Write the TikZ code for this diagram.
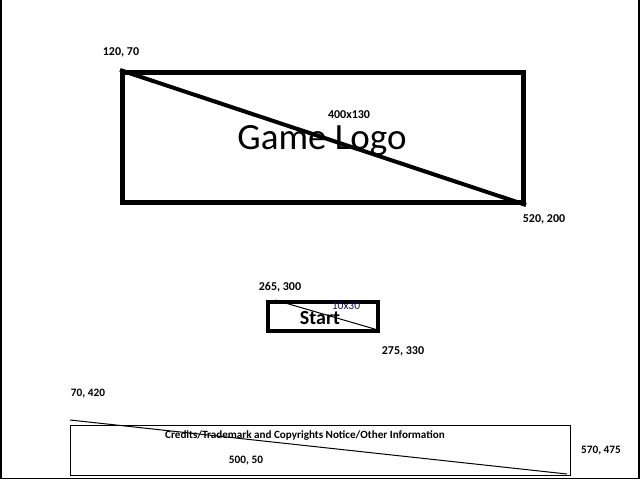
\documentclass[tikz,border=0pt]{standalone}
\usepackage{fontspec}
\setmainfont{Carlito}
\begin{document}
\begin{tikzpicture}[x=1pt,y=-1pt,
  coordlabel/.style={font=\fontsize{12}{12}\selectfont\bfseries, inner sep=0pt},
  smalllabel/.style={font=\fontsize{11.3}{11.3}\selectfont\bfseries, inner sep=0pt},
  box/.style={draw, inner sep=0pt, anchor=north west}]
\useasboundingbox (0,0) rectangle (640,480);
\fill[white] (0,0) rectangle (640,480);
% frame
\draw[line width=1.5pt] (0.75,0) -- (0.75,478.5) -- (639,478.5) -- (639,0);
% logo
\node[box, line width=5pt, minimum width=401pt, minimum height=130pt] (logo) at (120,70) {};
\draw[line width=4pt] (logo.north west) -- (logo.south east);
\node[font=\fontsize{37}{37}\selectfont, inner sep=0pt] (logotext) at (322,141) {Game Logo};
\node[font=\fontsize{12}{12}\selectfont\bfseries, inner sep=0pt] (logosize) at (349,115) {400x130};
\node[coordlabel] (l1) at (121,52) {120, 70};
\node[coordlabel] (l2) at (544,219) {520, 200};
% start
\node[box, line width=4pt, minimum width=110pt, minimum height=29pt] (start) at (265.5,300) {};
\coordinate (s1) at (275,300);
\coordinate (s2) at (378,330);
\draw[line width=1pt] (s1) -- (s2);
\node[font=\fontsize{20}{20}\selectfont\bfseries, inner sep=0pt] (starttext) at (320,318) {Start};
\node[font=\fontsize{11.5}{11.5}\selectfont, text={rgb,255:red,20;green,20;blue,90}, inner sep=0pt] (startsize) at (346,306) {10x30};
\node[coordlabel] (l3) at (280,287) {265, 300};
\node[coordlabel] (l4) at (403,351) {275, 330};
% credits
\node[box, line width=1pt, minimum width=500pt, minimum height=50pt] (credits) at (70,425) {};
\coordinate (c1) at (70,420);
\coordinate (c2) at (567,474);
\draw[line width=1pt] (c1) -- (c2);
\node[font=\fontsize{11.1}{11.1}\selectfont\bfseries, inner sep=0pt] (credtext) at (305,436) {Credits/Trademark and Copyrights Notice/Other Information};
\node[smalllabel] (credsize) at (246,461) {500, 50};
\node[smalllabel] (l5) at (88,394) {70, 420};
\node[smalllabel] (l6) at (601,451) {570, 475};
\end{tikzpicture}
\end{document}
